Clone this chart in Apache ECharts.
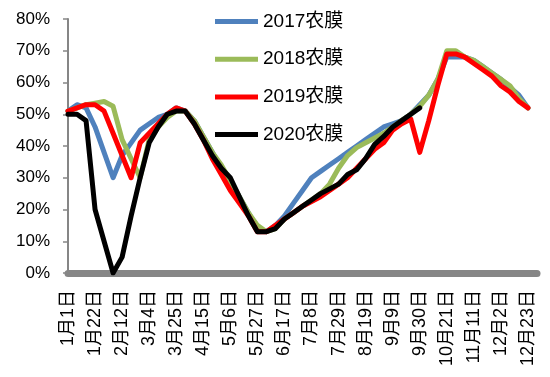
<!DOCTYPE html>
<html>
<head>
<meta charset="utf-8">
<script src="https://cdn.jsdelivr.net/npm/echarts@6/dist/echarts.min.js"></script>
<style>
  html, body { margin: 0; padding: 0; background: #fff; }
  #chart { width: 550px; height: 377px; }
</style>
</head>
<body>
<div id="chart"></div>
<script>
// weekly dates, every 3rd one is labelled
const weeks = [
  '1月1日', '1月8日', '1月15日', '1月22日', '1月29日', '2月5日', '2月12日', '2月19日', '2月26日',
  '3月4日', '3月11日', '3月18日', '3月25日', '4月1日', '4月8日', '4月15日', '4月22日', '4月29日',
  '5月6日', '5月13日', '5月20日', '5月27日', '6月3日', '6月10日', '6月17日', '6月24日', '7月1日',
  '7月8日', '7月15日', '7月22日', '7月29日', '8月5日', '8月12日', '8月19日', '8月26日', '9月2日',
  '9月9日', '9月16日', '9月23日', '9月30日', '10月7日', '10月14日', '10月21日', '10月28日', '11月4日',
  '11月11日', '11月18日', '11月25日', '12月2日', '12月9日', '12月16日', '12月23日', '12月30日'
]

const names = ['2017农膜', '2018农膜', '2019农膜', '2020农膜']

const film2017 = [51, 53, 52, 46, 38, 30, 37, 41, 45, 47, 49, 50, 52, 51, 48, 43, 38, 33, 29, 24, 19, 14,
  13, 15, 18, 22, 26, 30, 32, 34, 36, 38, 40, 42, 44, 46, 47, 48, 50, 53, 56, 61, 68, 68, 68, 67, 65, 63,
  61, 58.5, 56, 52, null]
const film2018 = [51, 52, 53, 53.5, 54, 52.5, 42, 36, 30, 42, 46, 49, 51, 51, 48, 43, 38, 34, 29, 24, 19, 15,
  13, 14, 17, 19, 21, 23, 25, 28, 33, 37, 39.5, 41, 42.5, 44, 46, 48, 50, 52.5, 56, 61, 70, 70, 68, 67, 65, 63,
  61, 59, 55, 52, null]
const film2019 = [51, 52, 53, 53, 51, 44, 37, 30, 41, 44, 47, 50, 52, 51, 47, 42, 36, 31, 26, 22, 18, 13,
  13, 15, 17, 19, 21, 22.5, 24, 26, 28, 30, 33, 36, 39, 41, 45, 47, 48.5, 38, 48, 59, 69, 69, 68, 66, 64, 62,
  59, 57, 54, 52, null]
const film2020 = [50, 50, 48, 20, 10, 0, 5, 18, 30, 41, 46, 50, 51, 51, 47, 42, 37, 33, 30, 24, 18, 13,
  13, 14, 17, 19, 21, 23, 25, 26.5, 28, 31, 32.5, 36, 40.5, 43, 46, 48, 50, 52]

const colors = ['#4F81BD', '#9BBB59', '#FF0000', '#000000']
const seriesData = [film2017, film2018, film2019, film2020]

const chart = echarts.init(document.getElementById('chart'))
chart.setOption({
  animation: false,
  backgroundColor: '#fff',
  color: colors,
  grid: { left: 68, right: 13, top: 19, bottom: 104, containLabel: false },
  legend: {
    orient: 'vertical',
    left: 215,
    top: 12,
    padding: 0,
    icon: 'rect',
    itemWidth: 43,
    itemHeight: 5,
    itemGap: 18.7,
    textStyle: {
      fontSize: 19,
      lineHeight: 19,
      color: '#000',
      fontFamily: '"Liberation Sans", "Noto Sans CJK SC", sans-serif'
    },
    data: names
  },
  xAxis: {
    type: 'category',
    data: weeks,
    boundaryGap: false,
    offset: 2,
    axisLine: { lineStyle: { color: '#868686', width: 7 } },
    axisTick: { show: false },
    axisLabel: {
      interval: 2,
      rotate: 90,
      margin: 15,
      fontSize: 18,
      color: '#000',
      fontFamily: '"Liberation Sans", "Noto Sans CJK SC", sans-serif'
    },
    splitLine: { show: false }
  },
  yAxis: {
    type: 'value',
    min: 0,
    max: 80,
    interval: 10,
    axisLine: { show: true, lineStyle: { color: '#868686', width: 2 } },
    axisTick: { show: true, length: 5, lineStyle: { color: '#868686', width: 1.5 } },
    axisLabel: {
      formatter: '{value}%',
      margin: 18,
      fontSize: 17,
      color: '#000',
      fontFamily: '"Liberation Sans", sans-serif'
    },
    splitLine: { show: false }
  },
  series: seriesData.map((d, i) => ({
    name: names[i],
    type: 'line',
    data: d,
    symbol: 'none',
    connectNulls: false,
    lineStyle: { color: colors[i], width: 5, cap: 'round', join: 'round' },
    itemStyle: { color: colors[i] }
  }))
})
</script>
</body>
</html>
